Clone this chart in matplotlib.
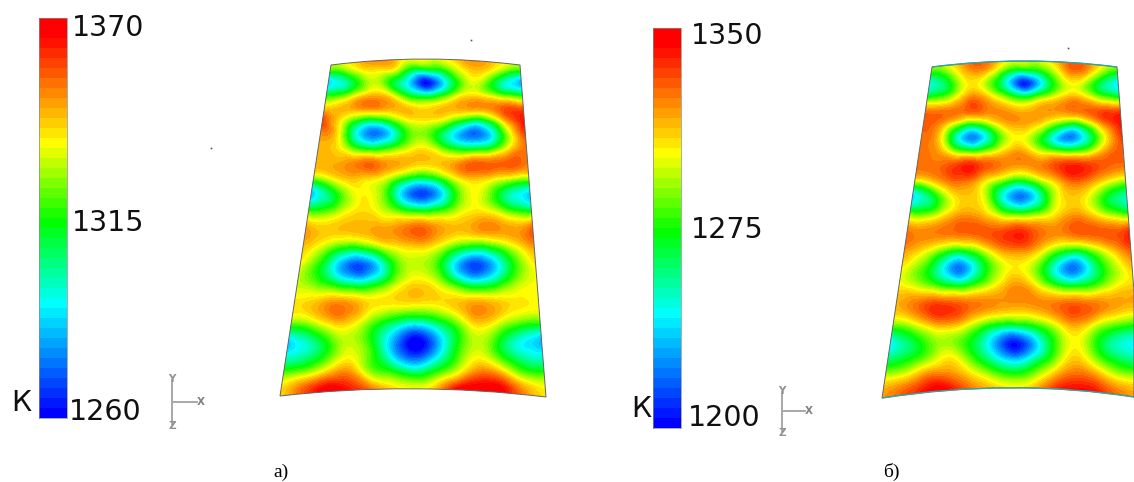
import matplotlib
matplotlib.use("Agg")
import matplotlib.pyplot as plt
import numpy as np
from matplotlib.colors import LinearSegmentedColormap, Normalize
from matplotlib.path import Path
from matplotlib.patches import PathPatch
from matplotlib.tri import Triangulation, UniformTriRefiner

# Span positions (image rows) at which temperatures were read
rows_a = [58,70,82,95,108,121,134,149,164,178,193,210,228,245,263,283,303,322,342,357,372,387,402]
rows_b = [58,70,83,96,110,123,137,152,166,181,196,214,232,249,267,286,305,324,343,358,373,388,403]

# Temperature (K): one row per span position, 13 equal steps across the blade width
field_a = [
 [1325,1335,1347,1350,1342,1336,1335,1336,1342,1350,1345,1335,1325],
 [1320,1325,1336,1338,1334,1310,1306,1312,1330,1342,1338,1325,1318],
 [1285,1297,1318,1330,1310,1288,1262,1282,1314,1333,1318,1295,1280],
 [1312,1318,1335,1343,1333,1310,1300,1310,1330,1338,1330,1318,1310],
 [1340,1343,1347,1349,1345,1342,1338,1342,1345,1347,1349,1356,1354],
 [1358,1338,1314,1303,1314,1332,1336,1332,1316,1303,1316,1346,1364],
 [1348,1338,1296,1275,1285,1315,1325,1308,1285,1273,1288,1328,1358],
 [1345,1340,1322,1312,1318,1330,1338,1326,1312,1310,1316,1338,1352],
 [1344,1345,1349,1354,1348,1344,1340,1342,1348,1355,1354,1355,1350],
 [1325,1335,1343,1340,1333,1316,1306,1316,1336,1343,1338,1332,1328],
 [1282,1305,1328,1336,1322,1285,1268,1282,1318,1335,1318,1297,1285],
 [1315,1318,1332,1339,1330,1316,1308,1314,1328,1337,1330,1315,1308],
 [1346,1341,1343,1344,1346,1349,1354,1347,1343,1347,1349,1346,1354],
 [1343,1333,1322,1322,1333,1340,1343,1336,1322,1316,1323,1336,1348],
 [1335,1315,1285,1272,1290,1322,1330,1318,1285,1270,1288,1318,1338],
 [1330,1320,1306,1298,1308,1329,1339,1331,1310,1298,1308,1327,1335],
 [1338,1342,1349,1345,1338,1338,1338,1338,1342,1346,1342,1338,1336],
 [1325,1330,1342,1338,1320,1305,1296,1306,1324,1342,1333,1322,1318],
 [1285,1298,1318,1330,1312,1280,1258,1278,1312,1330,1312,1292,1282],
 [1295,1302,1320,1335,1318,1288,1270,1288,1318,1335,1318,1300,1295],
 [1318,1325,1340,1348,1325,1315,1303,1315,1332,1350,1342,1320,1315],
 [1338,1352,1365,1362,1350,1338,1333,1340,1362,1367,1365,1345,1335],
 [1340,1352,1367,1370,1355,1342,1335,1345,1367,1370,1365,1348,1340],
]
field_b = [
 [1290,1305,1320,1328,1315,1300,1295,1300,1315,1328,1318,1300,1290],
 [1283,1290,1312,1322,1305,1275,1268,1275,1298,1325,1320,1295,1280],
 [1245,1262,1295,1305,1280,1240,1205,1235,1278,1303,1290,1260,1240],
 [1268,1278,1303,1320,1303,1280,1262,1280,1298,1312,1300,1278,1265],
 [1322,1322,1325,1330,1322,1318,1312,1318,1320,1325,1328,1330,1330],
 [1330,1322,1298,1280,1295,1315,1318,1310,1290,1275,1295,1325,1342],
 [1325,1312,1255,1222,1250,1292,1303,1280,1240,1222,1255,1303,1335],
 [1325,1320,1295,1283,1293,1310,1318,1300,1290,1285,1295,1320,1330],
 [1325,1325,1332,1340,1330,1322,1318,1322,1332,1340,1335,1328,1325],
 [1298,1310,1325,1325,1305,1285,1270,1288,1310,1328,1320,1303,1290],
 [1235,1262,1298,1312,1298,1248,1220,1245,1295,1312,1298,1268,1250],
 [1285,1285,1305,1318,1312,1290,1280,1288,1305,1318,1308,1290,1278],
 [1325,1322,1325,1328,1330,1332,1338,1328,1322,1328,1330,1330,1338],
 [1320,1308,1290,1280,1295,1318,1325,1315,1290,1278,1292,1312,1330],
 [1305,1285,1250,1220,1255,1292,1305,1288,1245,1220,1255,1290,1312],
 [1305,1295,1280,1270,1285,1305,1320,1305,1280,1270,1280,1300,1310],
 [1315,1325,1335,1332,1325,1320,1318,1320,1325,1330,1325,1318,1315],
 [1288,1298,1315,1315,1295,1275,1270,1280,1300,1318,1300,1285,1275],
 [1240,1262,1285,1290,1268,1232,1203,1232,1278,1303,1275,1250,1240],
 [1258,1270,1290,1305,1280,1250,1228,1250,1285,1310,1285,1262,1250],
 [1288,1298,1318,1320,1305,1285,1272,1285,1310,1325,1312,1290,1285],
 [1315,1325,1340,1342,1325,1312,1305,1312,1335,1342,1335,1318,1312],
 [1320,1330,1345,1350,1330,1315,1305,1318,1340,1350,1342,1325,1318],
]
ticks_a = ["1370", "1315", "1260"]
ticks_b = ["1350", "1275", "1200"]
range_a = (1260, 1370)
range_b = (1200, 1350)
unit = "К"
captions = ["а)", "б)"]

N_LEVELS = 40
cmap = LinearSegmentedColormap.from_list(
    "bar", [(0, (0, 0, 1)), (.28, (0, 1, 1)), (.49, (0, 1, 0)),
            (.69, (1, 1, 0)), (.97, (1, 0, 0)), (1, (1, 0, 0))], N=N_LEVELS)

W, H = 1134, 482
fig = plt.figure(figsize=(W / 100, H / 100), dpi=100, facecolor="white")
ax = fig.add_axes([0, 0, 1, 1])
ax.axis("off")


def blade(field, rows, rng, sides, outline, codes, edge="#666666"):
    (ltx, lty), (lbx, lby), (rtx, rty), (rbx, rby) = sides
    ys = np.array(rows, float)
    left = ltx + (lbx - ltx) * (ys - lty) / (lby - lty)
    right = rtx + (rbx - rtx) * (ys - rty) / (rby - rty)
    arr = np.array(field, float)
    u = np.linspace(0, 1, arr.shape[1])
    xg = left[:, None] + (right - left)[:, None] * u[None, :]
    yg = np.repeat(ys[:, None], arr.shape[1], axis=1)
    tri = Triangulation(xg.ravel(), yg.ravel())
    tri_f, z_f = UniformTriRefiner(tri).refine_field(arr.ravel(), subdiv=3)
    patch = PathPatch(Path(outline, codes), fc="none", ec=edge, lw=0.7, zorder=3)
    ax.add_patch(patch)
    levels = np.linspace(rng[0], rng[1], N_LEVELS + 1)
    cs = ax.tricontourf(tri_f, z_f, levels=levels, cmap=cmap, norm=Normalize(*rng),
                        extend="both", antialiased=False, zorder=2)
    cs.set_clip_path(patch)


def colorbar(rng, x, y, labels, lab_x, lab_y, k_xy):
    vals = np.linspace(rng[0], rng[1], N_LEVELS + 1)
    mids = (vals[:-1] + vals[1:]) / 2
    ye = np.linspace(y[0], y[1], N_LEVELS + 1)
    ax.pcolormesh([x[0], x[1]], ye, mids[:, None], cmap=cmap, norm=Normalize(*rng), zorder=2)
    ax.plot([x[0], x[1], x[1], x[0], x[0]], [y[0], y[0], y[1], y[1], y[0]],
            color="#8a8a8a", lw=0.5, zorder=3)
    for s, lx, ly in zip(labels, lab_x, lab_y):
        ax.text(lx, ly, s, fontsize=20.5, color="#101010", va="center", ha="left")
    ax.text(k_xy[0], k_xy[1], unit, fontsize=20.5, color="#101010", va="center", ha="left")


def triad(cx, top, mid, bot, right):
    c = "#a8a8a8"
    ax.plot([cx, cx], [top, bot], color=c, lw=1.4, zorder=2)
    ax.plot([cx, right], [mid, mid], color=c, lw=1.4, zorder=2)
    ax.text(cx, top - 1, "Y", color="#909090", fontsize=7.5, ha="center", va="center", weight="bold")
    ax.text(right + 4, mid, "X", color="#808080", fontsize=7.5, ha="center", va="center", weight="bold")
    ax.text(cx, bot + 2, "Z", color="#909090", fontsize=7.5, ha="center", va="center", weight="bold")


curve = [Path.MOVETO, Path.CURVE3, Path.CURVE3, Path.LINETO, Path.CURVE3, Path.CURVE3, Path.LINETO]
blade(field_a, rows_a, range_a,
      [(331, 65), (280, 396), (520, 65), (546, 397)],
      [(331, 65), (425, 53), (520, 65), (546, 397), (412, 381), (280, 396), (331, 65)], curve)

curve_b = [Path.MOVETO, Path.CURVE3, Path.CURVE3, Path.LINETO, Path.LINETO,
           Path.CURVE3, Path.CURVE3, Path.LINETO]
blade(field_b, rows_b, range_b,
      [(932, 67), (882, 398), (1117, 67), (1142, 398)],
      [(932, 67), (1024, 55), (1117, 67), (1134, 292), (1134, 397), (1012, 378), (882, 398), (932, 67)],
      curve_b)
# the noisy teal rim along the top and bottom of panel b
rim_top = PathPatch(Path([(932, 67), (1024, 55), (1117, 67)], curve[:3]), fc="none", ec="#2fa8a0", lw=1.0, zorder=4)
rim_bot = PathPatch(Path([(1134, 397), (1012, 378), (882, 398)], curve[:3]), fc="none", ec="#2fa8a0", lw=1.0, zorder=4)
ax.add_patch(rim_top)
ax.add_patch(rim_bot)

colorbar(range_a, (39, 67), (418, 18), ticks_a, (72, 72, 69), (28, 223, 412), (11, 403))
colorbar(range_b, (653, 681), (428, 28), ticks_b, (691, 691, 688), (36, 230, 418), (631, 409))

triad(172, 380, 402, 424, 197)
triad(782, 392, 411, 431, 805)

ax.text(281, 472, captions[0], family="Liberation Serif", fontsize=14, ha="center", va="center")
ax.text(891, 472, captions[1], family="Liberation Serif", fontsize=14, ha="center", va="center")
ax.plot([471, 211, 1068], [40, 148, 48], ls="none", marker="s", ms=1.2, color="#555555", mew=0)

ax.set_xlim(0, W)
ax.set_ylim(H, 0)
fig.savefig("out.png", dpi=100, facecolor="white")
